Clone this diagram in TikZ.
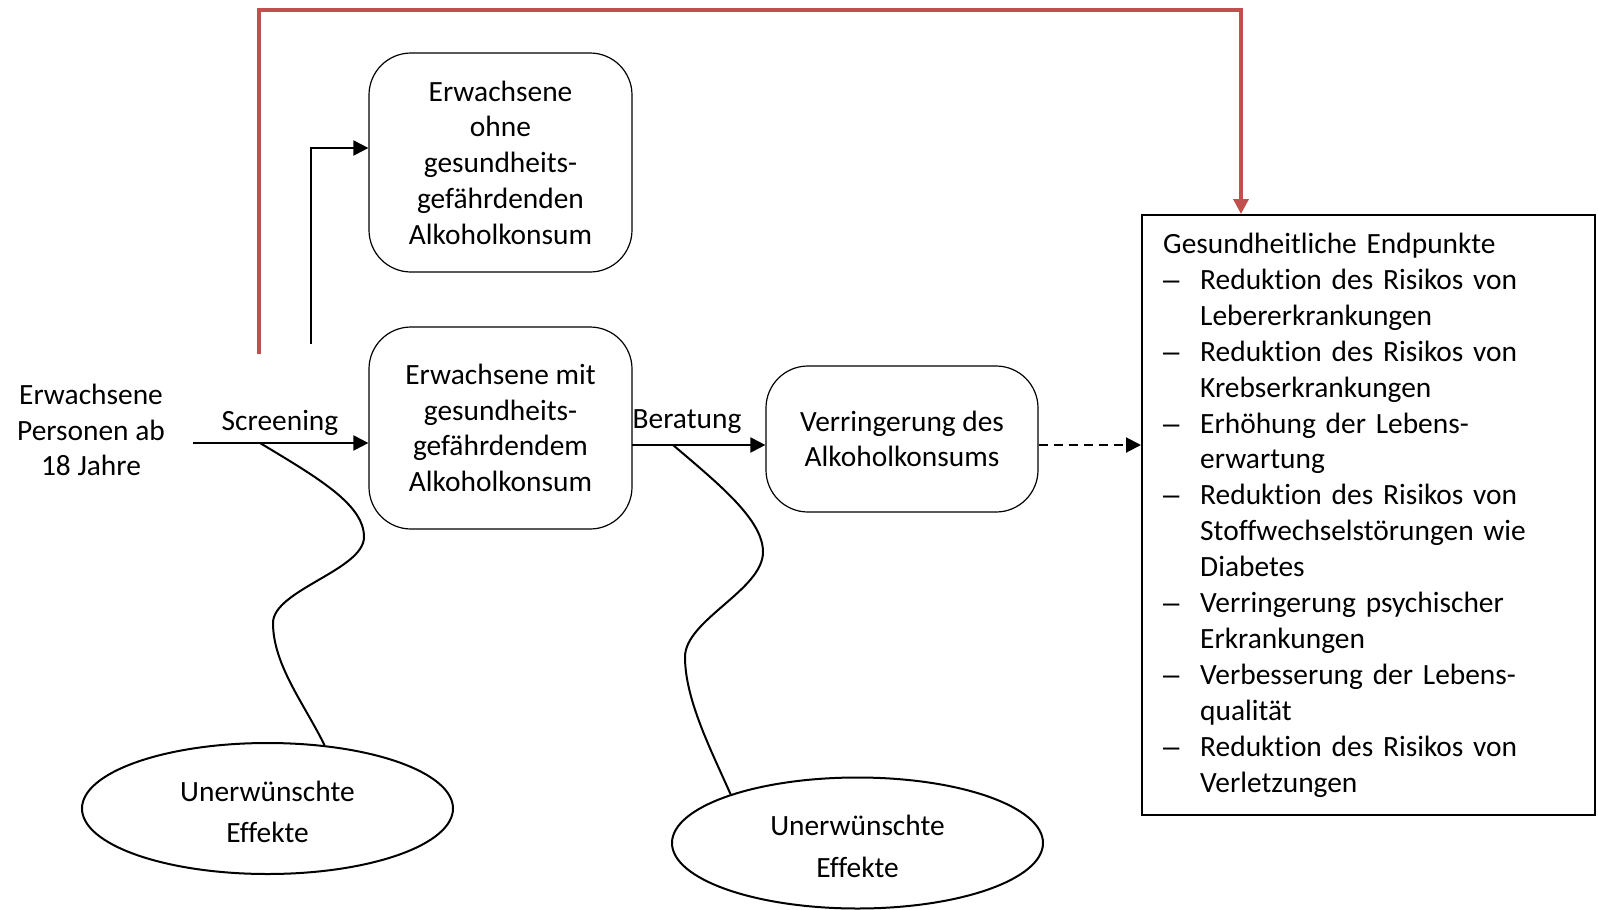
\documentclass[tikz,border=0pt]{standalone}
\usepackage{fontspec}
\setmainfont{Carlito}[Ligatures={NoCommon}]
\newfontfamily\dashfont{Liberation Sans}
\usetikzlibrary{arrows.meta,shapes.geometric}
\definecolor{redline}{RGB}{192,80,77}
\newcommand\itemdash{\makebox[37pt][l]{\dashfont –}}
\newcommand\itemind{\hspace*{37pt}}
\begin{document}
\begin{tikzpicture}[x=1pt,y=-1pt,
  txt/.style={font=\fontsize{29.4pt}{35.7pt}\selectfont, align=center},
  rbox/.style={draw, line width=1.2pt, rounded corners=42pt, inner sep=0pt, txt},
  ell/.style={ellipse, draw, line width=2pt, inner sep=0pt, minimum width=371pt, minimum height=131pt},
  elltxt/.style={inner sep=0pt, font=\fontsize{29.4pt}{41.5pt}\selectfont, align=center},
  arr/.style={line width=2pt, -{Triangle[length=15pt,width=15pt]}},
  redarr/.style={draw=redline, line width=3.5pt, -{Triangle[length=15pt,width=15pt]}},
  wave/.style={line width=2pt},
  dashedarr/.style={arr, dash pattern=on 9pt off 6pt},
  endbox/.style={draw, line width=2pt, inner sep=0pt},
  endtext/.style={inner sep=0pt, text width=420pt, align=left, font=\fontsize{29.4pt}{35.9pt}\selectfont},
]
\useasboundingbox (0,0) rectangle (1598,910);

\node[rbox, minimum width=263pt, minimum height=219pt] (top) at (500.5,162.5) {Erwachsene\\ohne\\gesundheits-\\gefährdenden\\Alkoholkonsum};
\node[rbox, minimum width=263pt, minimum height=202pt] (mid) at (500.5,428) {Erwachsene mit\\gesundheits-\\gefährdendem\\Alkoholkonsum};
\node[rbox, minimum width=272pt, minimum height=146pt] (verr) at (902,439) {Verringerung des\\Alkoholkonsums};
\node[endbox, minimum width=453pt, minimum height=600pt] (endp) at (1368.5,515) {};
\node[endtext, anchor=base west] (endtxt) at (1163,253.5) {Gesundheitliche Endpunkte\\
\itemdash Reduktion des Risikos von\\
\itemind Lebererkrankungen\\
\itemdash Reduktion des Risikos von\\
\itemind Krebserkrankungen\\
\itemdash Erhöhung der Lebens-\\
\itemind erwartung\\
\itemdash Reduktion des Risikos von\\
\itemind Stoffwechselstörungen wie\\
\itemind Diabetes\\
\itemdash Verringerung psychischer\\
\itemind Erkrankungen\\
\itemdash Verbesserung der Lebens-\\
\itemind qualität\\
\itemdash Reduktion des Risikos von\\
\itemind Verletzungen};

\node[txt] (pers) at (91,430) {Erwachsene\\Personen ab\\18 Jahre};
\node[txt, anchor=base] (scrl) at (280,430) {Screening};
\node[txt, anchor=base] (berl) at (687,428.5) {Beratung};
\node[ell] (ell1) at (267.5,808.5) {};
\node[elltxt] (ell1t) at (267.5,812) {Unerwünschte\\Effekte};
\node[ell] (ell2) at (857.5,843) {};
\node[elltxt] (ell2t) at (857.5,846.5) {Unerwünschte\\Effekte};

\coordinate (src) at (193,443);
\coordinate (w1) at (260,443);
\coordinate (b0) at (632,445);
\coordinate (w2) at (673,445);
\coordinate (up0) at (311,344);
\coordinate (up1) at (311,148);
\coordinate (r0) at (259,354);
\coordinate (r1) at (259,10);
\coordinate (r2) at (1241,10);

\draw[arr] (src) -- (src -| mid.west);
\draw[arr] (up0) -- (up1) -- (up1 -| top.west);
\draw[arr] (b0) -- (b0 -| verr.west);
\draw[dashedarr] (verr.east |- b0) -- (b0 -| endp.west);
\draw[redarr] (r0) -- (r1) -- (r2) -- (r2 |- endp.north);

\draw[wave] (w1) .. controls (320,479) and (364,505) .. (364,537) .. controls (364,570) and (273,590) .. (273,623) .. controls (273,665) and (305,705) .. (ell1.48);
\draw[wave] (w2) .. controls (720,485) and (763,520) .. (763,552) .. controls (763,590) and (685,620) .. (685,657) .. controls (685,700) and (712,752) .. (ell2.159);
\end{tikzpicture}
\end{document}
